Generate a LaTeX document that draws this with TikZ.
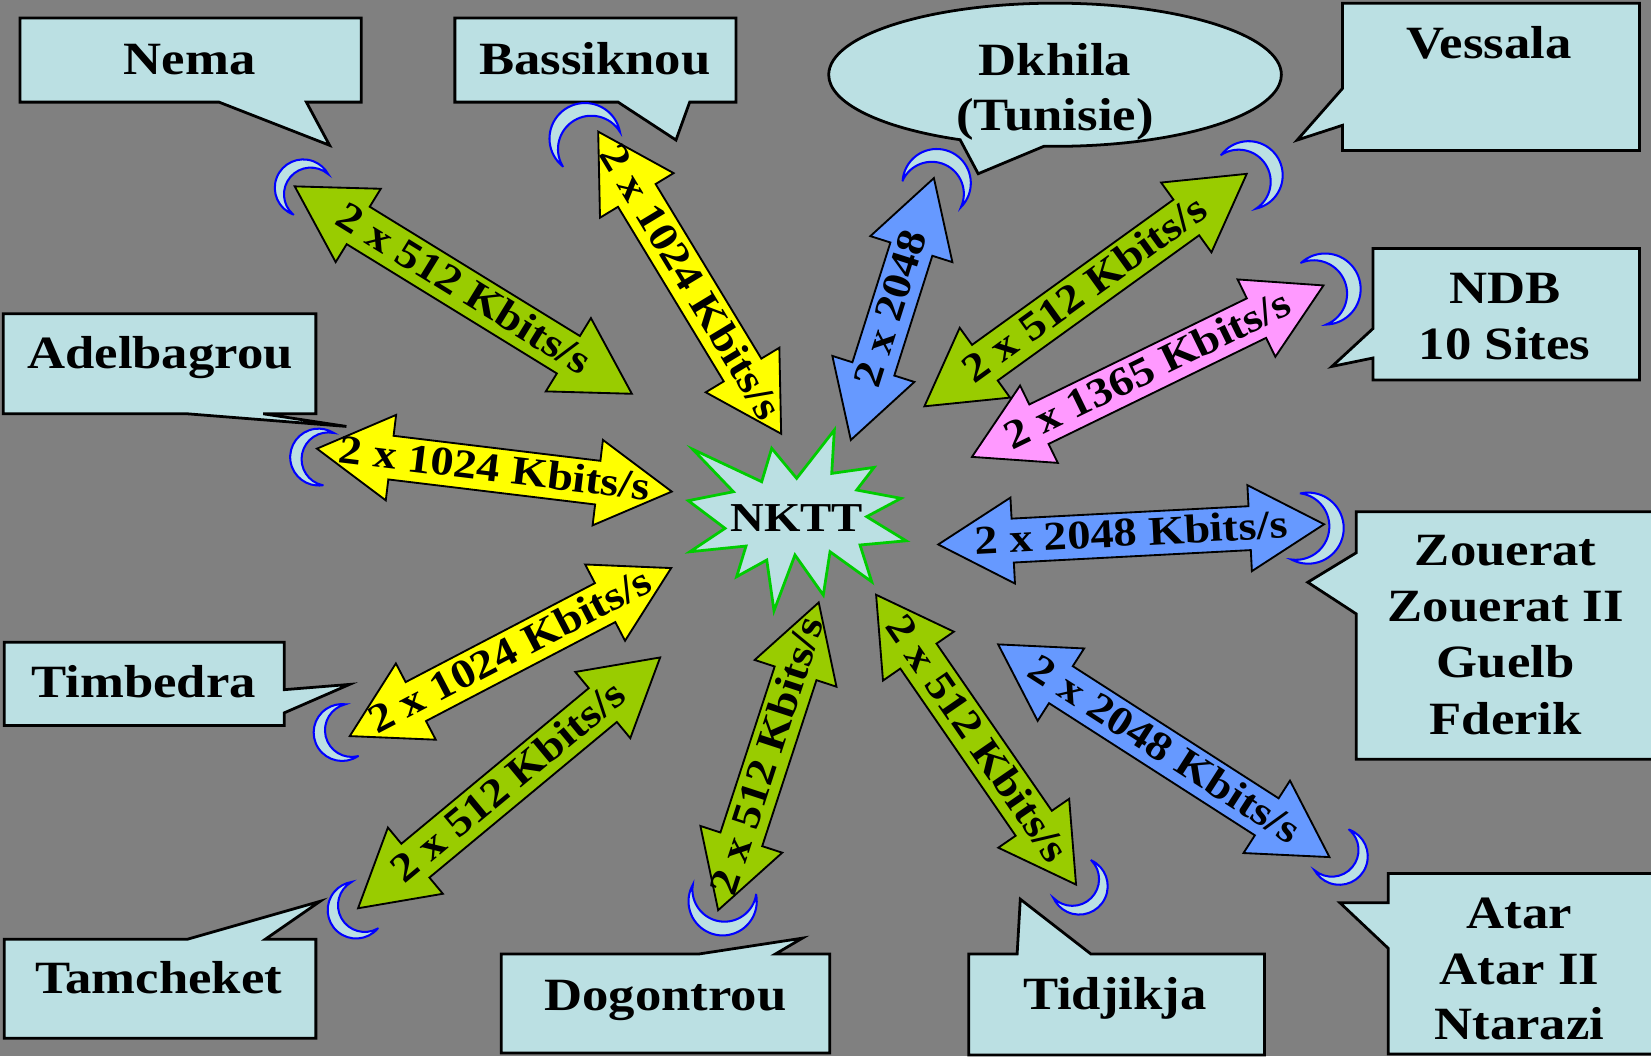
\documentclass[tikz,border=0pt]{standalone}
\usepackage{fontspec}
\setmainfont{Liberation Serif}[FakeStretch=1.14]
\usetikzlibrary{shapes.arrows,shapes.callouts}

\definecolor{bggray}{HTML}{808080}
\definecolor{boxcyan}{HTML}{BBE0E3}
\definecolor{linkgreen}{HTML}{99CC00}
\definecolor{linkyellow}{HTML}{FFFF00}
\definecolor{linkblue}{HTML}{6699FF}
\definecolor{linkpink}{HTML}{FF99FF}
\definecolor{burstgreen}{HTML}{00CC00}

\begin{document}
\begin{tikzpicture}[x=0.02cm, y=-0.02cm,
    site/.style = {
      draw = black,
      line width = 1.5pt,
      fill = boxcyan
    },
    sitename/.style = {
      anchor = base,
      inner sep = 0pt,
      font = \fontsize{25}{30}\selectfont\bfseries
    },
    link/.style = {
      double arrow,
      draw = black,
      line width = 1pt,
      fill = #1,
      double arrow head extend = 0.4cm,
      double arrow tip angle = 60,
      minimum width = 0pt,
      inner sep = 0pt,
      text height = 0.62cm,
      text depth = 0.18cm,
      font = \fontsize{22}{26}\selectfont\bfseries
    },
    burst/.style = {
      draw = burstgreen,
      fill = boxcyan,
      line width = 1.5pt
    },
    moonline/.style = {
      draw = blue,
      line width = 1.1pt,
      fill = boxcyan
    },
    pics/moon/.style = {code = {
      \draw[moonline] (70:27) arc[start angle=70, end angle=290, radius=27]
        arc[start angle=269.7, end angle=90.3, radius=25.37] -- cycle;
    }}
  ]
  \useasboundingbox (0,0) rectangle (1568,1003);
  \fill[bggray] (0,0) rectangle (1568,1003);
  \clip (0,0) rectangle (1568,1003);

  % callouts
  \draw[site] (19,17) -- (343,17) -- (343,97) -- (291,97) -- (313,138) -- (208,97) -- (19,97) -- cycle;
  \draw[site] (432,17) -- (699,17) -- (699,97) -- (655,97) -- (642,133) -- (587,97) -- (432,97) -- cycle;
  \node[site, ellipse callout, minimum width=8.6cm, minimum height=2.72cm, inner sep=0pt,
        callout absolute pointer={(929,165)}, callout pointer arc=22] (dkhilabox) at (1002,71) {};
  \draw[site] (1275,3) -- (1557,3) -- (1557,143) -- (1275,143) -- (1275,119) -- (1232,133) -- (1275,84) -- cycle;
  \draw[site] (1304,236) -- (1557,236) -- (1557,361) -- (1304,361) -- (1304,340) -- (1265,348) -- (1304,312) -- cycle;
  \draw[site] (1288,486) -- (1575,486) -- (1575,721) -- (1288,721) -- (1288,583) -- (1242,553) -- (1288,525) -- cycle;
  \draw[site] (1318.5,829.5) -- (1575,829.5) -- (1575,1001) -- (1318.5,1001) -- (1318.5,900.7) -- (1272.6,857.4) -- (1318.5,857.4) -- cycle;
  \draw[site] (3,298) -- (300,298) -- (300,393) -- (250,393) -- (329,405) -- (178,393) -- (3,393) -- cycle;
  \draw[site] (4,610) -- (270,610) -- (270,655) -- (332,650) -- (270,677) -- (270,689) -- (4,689) -- cycle;
  \draw[site] (4,892) -- (178,892) -- (304,856) -- (252,892) -- (300,892) -- (300,986) -- (4,986) -- cycle;
  \draw[site] (476,906) -- (664,906) -- (762,891) -- (736.5,906) -- (788,906) -- (788,1000) -- (476,1000) -- cycle;
  \draw[site] (920,906) -- (966,906) -- (969,854) -- (1036,906) -- (1201,906) -- (1201,1002) -- (920,1002) -- cycle;

  \node[sitename] (nema)       at (180,71)      {Nema};
  \node[sitename] (bassiknou)  at (565,71)      {Bassiknou};
  \node[sitename] (dkhila)     at (1002,72)     {Dkhila};
  \node[sitename] (tunisie)    at (1002,123.5)  {(Tunisie)};
  \node[sitename] (vessala)    at (1414,55.4)   {Vessala};
  \node[sitename] (ndb)        at (1429,288.7)  {NDB};
  \node[sitename] (ndbsites)   at (1429,341)    {10 Sites};
  \node[sitename] (adelbagrou) at (152,350)     {Adelbagrou};
  \node[sitename] (zouerat)    at (1430,537)    {Zouerat};
  \node[sitename] (zouerat2)   at (1430,590.4)  {Zouerat II};
  \node[sitename] (guelb)      at (1430,643.5)  {Guelb};
  \node[sitename] (fderik)     at (1430,697.6)  {Fderik};
  \node[sitename] (atar)       at (1443,881.7)  {Atar};
  \node[sitename] (atar2)      at (1443,934.6)  {Atar II};
  \node[sitename] (ntarazi)    at (1443,987)    {Ntarazi};
  \node[sitename] (timbedra)   at (136.4,662.8) {Timbedra};
  \node[sitename] (tamcheket)  at (150.6,943.6) {Tamcheket};
  \node[sitename] (dogontrou)  at (632,960)     {Dogontrou};
  \node[sitename] (tidjikja)   at (1058.8,958.7){Tidjikja};

  % moons
  \pic[rotate=-41]              at (288,178.4)    {moon};
  \pic[rotate=-59, scale=1.25]  at (555.6,131.6)  {moon};
  \pic[rotate=-114.5, scale=1.2] at (889.6,173.9) {moon};
  \pic[rotate=-147.1, scale=1.2] at (1185.8,166.5) {moon};
  \pic[rotate=-158, scale=1.25] at (1258.5,274.5) {moon};
  \pic[rotate=171.9, scale=1.25] at (1242.4,501.6) {moon};
  \pic[rotate=139.5]            at (1272,813.3)   {moon};
  \pic[rotate=134.5]            at (1025,841.6)   {moon};
  \pic[rotate=81, scale=1.2]    at (686.3,856)    {moon};
  \pic[rotate=29.2]             at (338.2,864.3)  {moon};
  \pic[rotate=13.5]             at (324.9,695.7)  {moon};
  \pic[rotate=-12]              at (302.6,434.1)  {moon};

  % links
  \node[link=linkgreen,  minimum height=7.52cm, rotate=-31.6] (nemalink)       at (440,275.5)    {\makebox[0pt]{2 x 512 Kbits/s}};
  \node[link=linkyellow, minimum height=6.71cm, rotate=-58.8] (bassiknoulink)  at (655,268.5)    {\makebox[0pt]{2 x 1024 Kbits/s}};
  \node[link=linkblue,   minimum height=5.22cm, rotate=72.4]  (dkhilalink)     at (847.5,293.5)  {\makebox[0pt]{2 x 2048}};
  \node[link=linkgreen,  minimum height=7.55cm, rotate=35.8]  (vessalalink)    at (1031,275.5)   {\makebox[0pt]{2 x 512 Kbits/s}};
  \node[link=linkpink,   minimum height=7.43cm, rotate=26.0]  (ndblink)        at (1090,352.5)   {\makebox[0pt]{2 x 1365 Kbits/s}};
  \node[link=linkblue,   minimum height=7.34cm, rotate=3.0]   (zoueratlink)    at (1074.3,507.5) {\makebox[0pt]{2 x 2048 Kbits/s}};
  \node[link=linkblue,   minimum height=7.48cm, rotate=-32.7] (atarlink)       at (1105.3,713)   {\makebox[0pt]{2 x 2048 Kbits/s}};
  \node[link=linkgreen,  minimum height=6.69cm, rotate=-55.4] (tidjikjalink)   at (927,702.5)    {\makebox[0pt]{2 x 512 Kbits/s}};
  \node[link=linkgreen,  minimum height=6.15cm, rotate=71.9]  (dogontroulink)  at (729.8,718.3)  {\makebox[0pt]{2 x 512 Kbits/s}};
  \node[link=linkgreen,  minimum height=7.46cm, rotate=39.7]  (tamcheketlink)  at (483.5,743.5)  {\makebox[0pt]{2 x 512 Kbits/s}};
  \node[link=linkyellow, minimum height=6.89cm, rotate=27.6]  (timbedralink)   at (484.8,619.3)  {\makebox[0pt]{2 x 1024 Kbits/s}};
  \node[link=linkyellow, minimum height=6.79cm, rotate=-6.9]  (adelbagroulink) at (469.5,446.5)  {\makebox[0pt]{2 x 1024 Kbits/s}};

  % central node
  \draw[burst] (657.9,426.7) -- (723.4,457.5) -- (732.9,425.8) -- (756.6,454.3) -- (792.4,408.4)
    -- (789.9,449.6) -- (830.1,443.9) -- (813.6,465.4) -- (855.7,473.3) -- (823.1,490.7)
    -- (860.5,513.6) -- (816.8,517.6) -- (827.9,552.5) -- (788.3,524) -- (781.9,565.1)
    -- (755,527.1) -- (735.1,580) -- (728.2,531.9) -- (699.6,547.7) -- (708.5,518.6)
    -- (655.3,524) -- (688.6,501.8) -- (653.7,475.5) -- (696.5,467) -- cycle;
  \node[sitename, font=\fontsize{22.2}{27}\selectfont\bfseries] (nktt) at (756.6,505) {NKTT};
\end{tikzpicture}
\end{document}
